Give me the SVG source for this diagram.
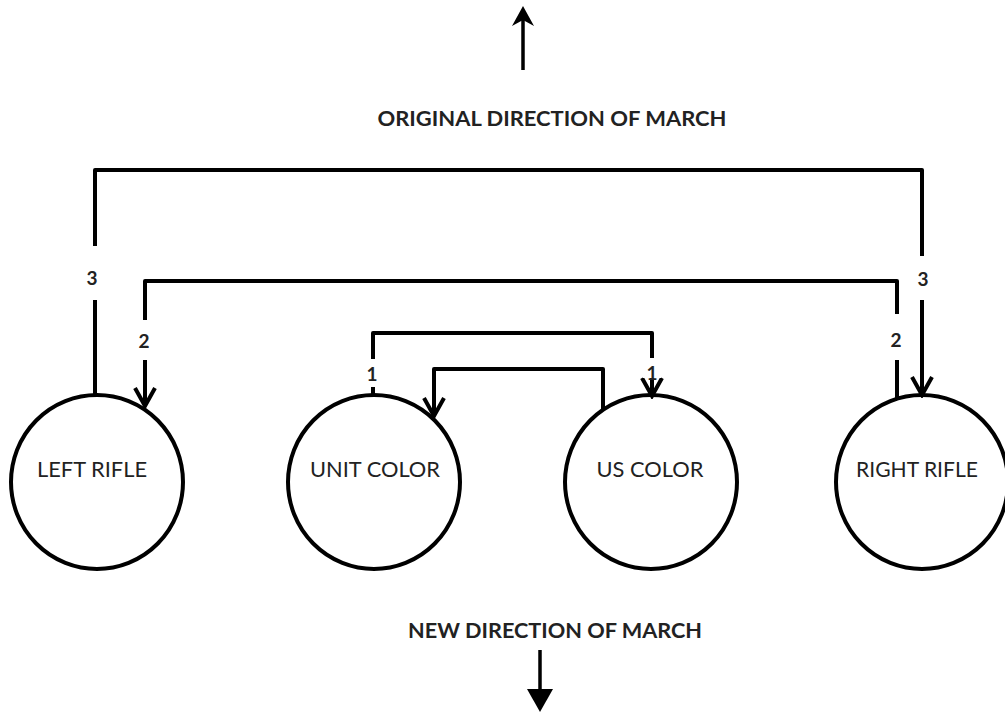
<svg xmlns="http://www.w3.org/2000/svg" width="1005" height="712" viewBox="0 0 1005 712">
<style>
.node{fill:none;stroke:#000;stroke-width:4}
.conn{fill:none;stroke:#000;stroke-width:4;stroke-linejoin:round}
.lbl{font-family:Lato,"Liberation Sans",sans-serif;font-size:22px;fill:#222;text-anchor:middle}
.num{font-family:Lato,"Liberation Sans",sans-serif;font-size:19px;font-weight:bold;fill:#222;text-anchor:middle}
.title{font-family:Lato,"Liberation Sans",sans-serif;font-size:20px;font-weight:bold;fill:#222;text-anchor:middle}
.gap{fill:#fff}
</style>
<defs>
<marker id="chev" markerUnits="userSpaceOnUse" viewBox="-22 -13 25 26" refX="0" refY="0" markerWidth="25" markerHeight="26" orient="auto">
<path d="M-18,-10 L0,0 L-18,10" fill="none" stroke="#000" stroke-width="4" stroke-linejoin="miter"/>
</marker>
</defs>
<rect width="1005" height="712" fill="#fff"/>

<g id="connectors">
<path class="conn" d="M95,395 V170 H922 V395" marker-end="url(#chev)"/>
<path class="conn" d="M897,398 V281 H145 V406" marker-end="url(#chev)"/>
<path class="conn" d="M373,395 V333 H652 V396" marker-end="url(#chev)"/>
<path class="conn" d="M603,410 V369 H434 V416" marker-end="url(#chev)"/>
<rect class="gap" x="84" y="246" width="22" height="54"/>
<rect class="gap" x="912" y="256" width="22" height="44"/>
<rect class="gap" x="134" y="320" width="22" height="40"/>
<rect class="gap" x="886" y="314" width="22" height="46"/>
<rect class="gap" x="362" y="359" width="22" height="28"/>
<rect class="gap" x="643" y="358" width="18" height="20"/>
<text class="num" x="92" y="285">3</text>
<text class="num" x="923" y="286">3</text>
<text class="num" x="144" y="348">2</text>
<text class="num" x="896" y="347">2</text>
<text class="num" x="372" y="381">1</text>
<text class="num" x="652" y="380">1</text>
</g>

<g id="left-rifle">
<ellipse class="node" cx="97" cy="482" rx="86" ry="87"/>
<text class="lbl" x="92" y="477" textLength="110" lengthAdjust="spacingAndGlyphs">LEFT RIFLE</text>
</g>
<g id="unit-color">
<ellipse class="node" cx="374" cy="482" rx="86" ry="87"/>
<text class="lbl" x="375" y="477" textLength="130" lengthAdjust="spacingAndGlyphs">UNIT COLOR</text>
</g>
<g id="us-color">
<ellipse class="node" cx="651" cy="482" rx="86" ry="87"/>
<text class="lbl" x="650" y="477" textLength="107" lengthAdjust="spacingAndGlyphs">US COLOR</text>
</g>
<g id="right-rifle">
<ellipse class="node" cx="922" cy="482" rx="86" ry="87"/>
<text class="lbl" x="917" y="477" textLength="122" lengthAdjust="spacingAndGlyphs">RIGHT RIFLE</text>
</g>

<g id="original-direction">
<line x1="523" y1="70" x2="523" y2="18" stroke="#000" stroke-width="3.5"/>
<path d="M523,6 L512,26 L523,20 L534,26 Z" fill="#000"/>
<text class="title" x="552" y="126" textLength="349" lengthAdjust="spacingAndGlyphs">ORIGINAL DIRECTION OF MARCH</text>
</g>
<g id="new-direction">
<text class="title" x="555" y="638" textLength="294" lengthAdjust="spacingAndGlyphs">NEW DIRECTION OF MARCH</text>
<line x1="540" y1="650" x2="540" y2="692" stroke="#000" stroke-width="3.5"/>
<path d="M527,689 L553,689 L540,712 Z" fill="#000"/>
</g>
</svg>
